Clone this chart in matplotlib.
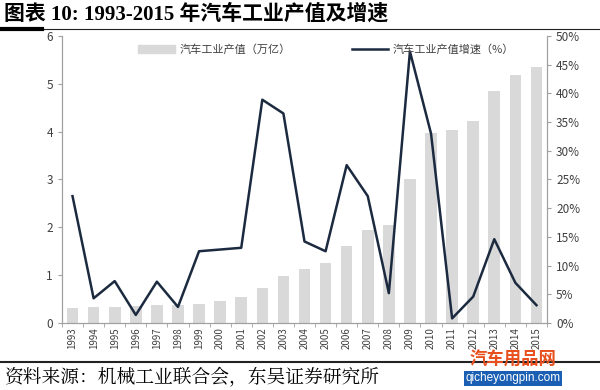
import matplotlib
matplotlib.use("Agg")
import matplotlib.pyplot as plt
import numpy as np
from matplotlib.lines import Line2D
from matplotlib.patches import Rectangle

plt.rcParams['font.family'] = ['Noto Sans CJK SC', 'DejaVu Sans']

years = [str(y) for y in range(1993, 2016)]
output_value = [0.31, 0.33, 0.34, 0.35, 0.37, 0.38, 0.40, 0.47, 0.54, 0.73, 0.98,
                1.12, 1.25, 1.60, 1.95, 2.05, 3.00, 3.98, 4.03, 4.23, 4.84, 5.19, 5.35]
growth = [22.1, 4.3, 7.3, 1.4, 7.2, 2.8, 12.5, 12.8, 13.1, 38.9, 36.5,
          14.2, 12.5, 27.5, 22.1, 5.2, 47.3, 33.0, 0.8, 4.6, 14.6, 7.0, 3.1]
left_ticks = [0, 1, 2, 3, 4, 5, 6]
right_ticks = [0, 5, 10, 15, 20, 25, 30, 35, 40, 45, 50]
bar_label = '汽车工业产值（万亿）'
line_label = '汽车工业产值增速（%）'
title = '图表 10: 1993-2015 年汽车工业产值及增速'
source = '资料来源：机械工业联合会，东吴证券研究所'
wm_cn = '汽车用品网'
wm_en = 'qicheyongpin.com'

fig = plt.figure(figsize=(6, 3.9), dpi=100)
ax = fig.add_axes([0.1033, 0.1718, 0.8084, 0.7359])
ax2 = ax.twinx()

x = np.arange(len(years))
ax.bar(x, output_value, width=0.55, color='#d9d9d9', zorder=1)
ax2.plot(x, growth, color='#1c2a40', lw=1.8, zorder=3)

ax.set_xlim(-0.5, len(years) - 0.5)
ax.set_ylim(0, 6)
ax2.set_ylim(0, 50)
ax.set_yticks(left_ticks)
ax.set_yticklabels([str(t) for t in left_ticks])
ax2.set_yticks(right_ticks)
ax2.set_yticklabels([f'{t}%' for t in right_ticks])
ax.set_xticks(x)
ax.set_xticklabels(years, rotation=90)
ax.set_xticks(np.arange(-0.5, len(years)), minor=True)
ax.tick_params(axis='x', which='major', length=0, labelsize=7, colors='#404040', pad=3)
ax.tick_params(axis='x', which='minor', length=3, color='#a0a0a0')
ax.tick_params(axis='y', length=3, color='#a0a0a0', labelsize=8.5, labelcolor='#404040')
ax2.tick_params(axis='y', length=3, color='#a0a0a0', labelsize=8.5, labelcolor='#404040')

for a in (ax, ax2):
    a.spines['top'].set_visible(False)
    for s in ('left', 'right', 'bottom'):
        a.spines[s].set_color('#a0a0a0')
        a.spines[s].set_linewidth(0.8)
ax.set_zorder(1)
ax2.set_zorder(2)
ax2.patch.set_visible(False)

handles = [Rectangle((0, 0), 1, 1, color='#d9d9d9'),
           Line2D([0], [0], color='#1c2a40', lw=1.8)]
ax2.legend(handles, [bar_label, line_label], loc='upper center',
           bbox_to_anchor=(0.545, 1.005), ncol=2, frameon=False, fontsize=8,
           handlelength=3.3, columnspacing=5.5, handletextpad=0.4,
           labelcolor='#404040')

fig.text(0.006, 0.963, title, fontsize=15, fontweight='bold',
         family=['Liberation Serif', 'Noto Sans CJK SC'], va='center', ha='left')
fig.add_artist(Line2D([0, 1], [0.926, 0.926], color='#222222', lw=0.8))
fig.add_artist(Line2D([0, 0.07], [0.926, 0.926], color='#000000', lw=3))
fig.add_artist(Line2D([0, 1], [0.072, 0.072], color='#222222', lw=1.5))
fig.text(0.008, 0.033, source, fontsize=13.5, va='center', ha='left',
         family=['Noto Serif CJK SC', 'Noto Sans CJK SC'])

fig.text(0.855, 0.079, wm_cn, fontsize=12.5, fontweight='bold', color='#e8501e',
         va='center', ha='center', zorder=5)
fig.text(0.855, 0.030, wm_en, fontsize=8.5, color='white', va='center', ha='center',
         family=['Liberation Sans', 'DejaVu Sans'],
         bbox=dict(boxstyle='square,pad=0.15', fc='#1a5fb4', ec='none'))

fig.savefig('out.png', dpi=100)
